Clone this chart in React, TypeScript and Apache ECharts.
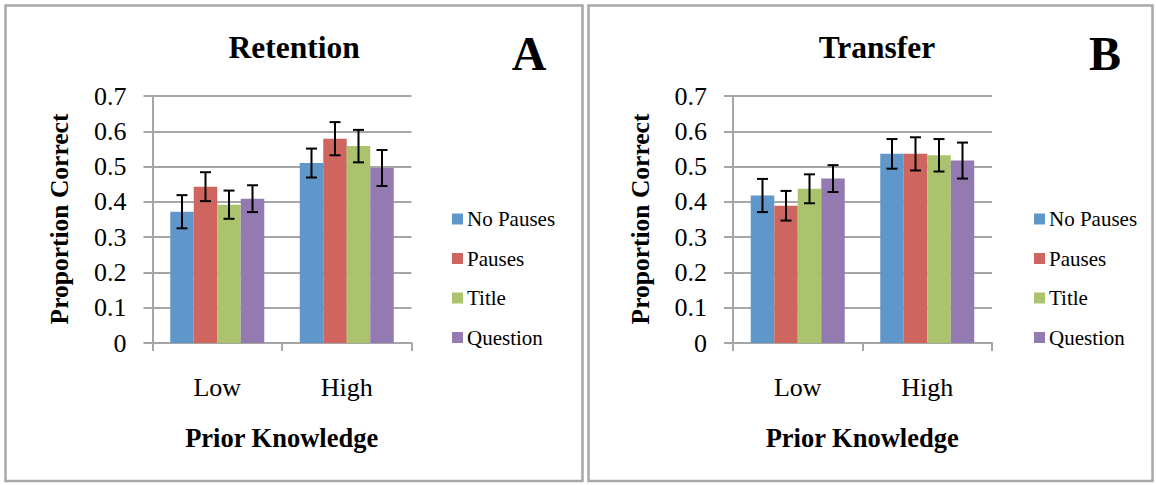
import React, { useEffect, useRef } from "react";
import * as echarts from "echarts";

const categories = ["Low", "High"];
const conditions = ["No Pauses", "Pauses", "Title", "Question"];
const colors = ["#6097CB", "#CE665F", "#ABC36C", "#937BB1"];
const yTicks = [0, 0.1, 0.2, 0.3, 0.4, 0.5, 0.6, 0.7];

// Retention (panel A)
const retentionMeans = [
  [0.372, 0.510],
  [0.443, 0.579],
  [0.392, 0.558],
  [0.409, 0.496],
];
const retentionErrors = [
  [0.047, 0.041],
  [0.041, 0.047],
  [0.040, 0.046],
  [0.038, 0.051],
];

// Transfer (panel B)
const transferMeans = [
  [0.418, 0.536],
  [0.389, 0.536],
  [0.437, 0.532],
  [0.466, 0.517],
];
const transferErrors = [
  [0.047, 0.042],
  [0.042, 0.047],
  [0.041, 0.046],
  [0.038, 0.051],
];

const FONT = "'Liberation Serif', 'Times New Roman', serif";
const GAP = 0.274;
const GRID_COLOR = "#a6a6a6";

function buildPanel(idx: number, means: number[][], errors: number[][]) {
  const series: any[] = [];
  conditions.forEach((name, i) => {
    series.push({
      name,
      type: "bar",
      xAxisIndex: idx,
      yAxisIndex: idx,
      data: means[i],
      barGap: "0%",
      barCategoryGap: GAP * 100 + "%",
      itemStyle: { color: colors[i] },
      z: 2,
    });
  });
  conditions.forEach((name, i) => {
    series.push({
      name: name + "-err-" + idx,
      type: "custom",
      xAxisIndex: idx,
      yAxisIndex: idx,
      z: 5,
      encode: { x: 0, y: 1 },
      data: means[i].map((m, c) => [c, m, errors[i][c]]),
      renderItem: (params: any, api: any) => {
        const cat = api.value(0);
        const m = api.value(1);
        const e = api.value(2);
        const catW = api.size([1, 0])[0];
        const bw = (catW * (1 - GAP)) / 4;
        const x = api.coord([cat, m])[0] + (i - 1.5) * bw;
        const yHi = api.coord([cat, m + e])[1];
        const yLo = api.coord([cat, m - e])[1];
        const cap = 5.5;
        const st = { stroke: "#000", lineWidth: 2 };
        return {
          type: "group",
          children: [
            { type: "line", shape: { x1: x, y1: yHi, x2: x, y2: yLo }, style: st },
            { type: "line", shape: { x1: x - cap, y1: yHi, x2: x + cap, y2: yHi }, style: st },
            { type: "line", shape: { x1: x - cap, y1: yLo, x2: x + cap, y2: yLo }, style: st },
          ],
        };
      },
    });
  });
  return series;
}

function axisPair(idx: number) {
  const xAxis = {
    type: "category",
    gridIndex: idx,
    data: categories,
    axisLine: { lineStyle: { color: GRID_COLOR, width: 2 } },
    axisTick: { show: true, length: 8, lineStyle: { color: GRID_COLOR, width: 2 } },
    axisLabel: { color: "#000", fontFamily: FONT, fontSize: 26, margin: 31 },
  };
  const yAxis = {
    type: "value",
    gridIndex: idx,
    min: 0,
    max: 0.7,
    interval: 0.1,
    axisLine: { show: true, lineStyle: { color: GRID_COLOR, width: 2 } },
    axisTick: { show: true, length: 9, lineStyle: { color: GRID_COLOR, width: 2 } },
    splitLine: { show: true, lineStyle: { color: GRID_COLOR, width: 2 } },
    axisLabel: {
      color: "#000",
      fontFamily: FONT,
      fontSize: 26,
      margin: 26,
      padding: [7, 0, 0, 0],
      formatter: (v: number) => {
        const t = yTicks.find((k) => Math.abs(k - v) < 1e-6);
        return t === 0 ? "0" : (t ?? v).toFixed(1);
      },
    },
  };
  return { xAxis, yAxis };
}

function txt(text: string, x: number, y: number, size: number, bold: boolean, rotation = 0) {
  return {
    type: "text",
    x,
    y,
    rotation,
    z: 10,
    style: {
      text,
      fontSize: size,
      fontFamily: FONT,
      fontWeight: bold ? "bold" : "normal",
      fill: "#000",
      align: "center",
      verticalAlign: "middle",
    },
  };
}

export default function App() {
  const ref = useRef<HTMLDivElement>(null);
  useEffect(() => {
    document.body.style.margin = "0";
    const chart = echarts.init(ref.current!, undefined, { renderer: "svg" });
    const a0 = axisPair(0);
    const a1 = axisPair(1);
    const legendBase = {
      orient: "vertical",
      icon: "rect",
      itemWidth: 11,
      itemHeight: 11,
      itemGap: 18.5,
      padding: 0,
      data: conditions,
      textStyle: { color: "#000", fontFamily: FONT, fontSize: 21, lineHeight: 21, padding: [0, 0, 0, -1] },
      selectedMode: false,
    };
    chart.setOption({
      animation: false,
      backgroundColor: "#fff",
      grid: [
        { left: 152.5, top: 96, width: 259, height: 247 },
        { left: 733, top: 96, width: 259, height: 247 },
      ],
      xAxis: [a0.xAxis, a1.xAxis],
      yAxis: [a0.yAxis, a1.yAxis],
      legend: [
        { ...legendBase, left: 452, top: 208.5 },
        { ...legendBase, left: 1034, top: 208.5 },
      ],
      series: [
        ...buildPanel(0, retentionMeans, retentionErrors),
        ...buildPanel(1, transferMeans, transferErrors),
      ],
      graphic: [
        {
          type: "rect",
          shape: { x: 5.5, y: 5.5, width: 577, height: 475.5 },
          style: { fill: "none", stroke: "#a8a8a8", lineWidth: 2.5 },
          z: 0,
        },
        {
          type: "rect",
          shape: { x: 588.5, y: 5.5, width: 564, height: 475.5 },
          style: { fill: "none", stroke: "#a8a8a8", lineWidth: 2.5 },
          z: 0,
        },
        txt("Retention", 294.2, 47.2, 31.5, true),
        txt("A", 529.2, 53, 48, true),
        txt("Transfer", 877, 47.2, 31.5, true),
        txt("B", 1105, 53, 48, true),
        txt("Proportion Correct", 59.7, 219, 25.5, true, Math.PI / 2),
        txt("Proportion Correct", 640.2, 219, 25.5, true, Math.PI / 2),
        txt("Prior Knowledge", 281.7, 438.3, 26.5, true),
        txt("Prior Knowledge", 862.2, 438.3, 26.5, true),
      ],
    });
    return () => chart.dispose();
  }, []);
  return <div ref={ref} style={{ width: 1156, height: 485 }} />;
}
